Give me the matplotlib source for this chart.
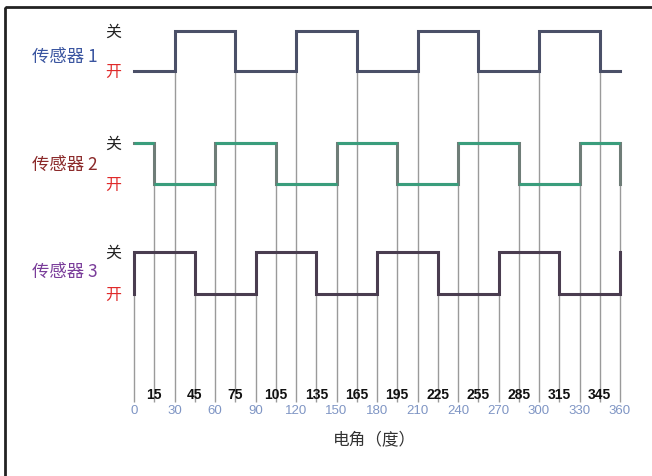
import matplotlib
matplotlib.use('Agg')
import matplotlib.pyplot as plt
from matplotlib.patches import Rectangle

plt.rcParams['font.family'] = ['Noto Sans CJK SC', 'DejaVu Sans']

# 传感器状态: 1 = 关 (高), 0 = 开 (低)
s1_angles = [0, 30, 75, 120, 165, 210, 255, 300, 345, 360]
s1_states = [0, 1, 0, 1, 0, 1, 0, 1, 0, 0]
s2_angles = [0, 15, 60, 105, 150, 195, 240, 285, 330, 360, 360]
s2_states = [1, 0, 1, 0, 1, 0, 1, 0, 1, 1, 0]
s3_angles = [0, 0, 45, 90, 135, 180, 225, 270, 315, 360, 360]
s3_states = [0, 1, 0, 1, 0, 1, 0, 1, 0, 0, 1]

sensor_names = ['传感器 1', '传感器 2', '传感器 3']
even_ticks = list(range(0, 361, 30))
odd_ticks = list(range(15, 360, 30))
xlabel = '电角（度）'

# layout (pixel-like y, x in degrees)
fig = plt.figure(figsize=(6.52, 4.76), dpi=100)
ax = fig.add_axes([0, 0, 1, 1])
px = 486 / 360
ax.set_xlim(-134 / px, (652 - 134) / px)
ax.set_ylim(476, 0)
ax.axis('off')

levels = [(31, 71), (143, 184), (252, 294)]  # (关, 开)
line_colors = ['#4b5068', '#6f7d78', '#4a3d50']
name_colors = ['#3a55a0', '#8b2a2a', '#7a3d9a']
label_y = [57, 165, 272]
sensors = [(s1_angles, s1_states), (s2_angles, s2_states), (s3_angles, s3_states)]

def to_y(states, lv):
    hi, lo = lv
    return [lo - s * (lo - hi) for s in states]

# vertical guide lines from first transition down to axis
bottom_y = 402
for a in range(0, 361, 15):
    top = None
    for (angs, sts), lv in zip(sensors, levels):
        trans = [angs[i] for i in range(1, len(angs)) if sts[i] != sts[i - 1]]
        if a in trans:
            top = lv[0]
            break
    if top is not None:
        ax.vlines(a, top, bottom_y, color='#9a9a9a', lw=1.0, zorder=1)

for i, ((angs, sts), lv) in enumerate(zip(sensors, levels)):
    ys = to_y(sts, lv)
    ax.plot(angs, ys, drawstyle='steps-post', color=line_colors[i], lw=2.2,
            solid_joinstyle='miter', zorder=3)
    if i == 1:
        # green horizontal segments
        for j in range(len(angs) - 1):
            if angs[j + 1] > angs[j]:
                ax.hlines(ys[j], angs[j], angs[j + 1], color='#3a9d7c', lw=2.2, zorder=4)
    ax.text(-36 / px, label_y[i], sensor_names[i], color=name_colors[i],
            fontsize=12.5, ha='right', va='center')
    ax.text(-21 / px, lv[0] + 1, '关', color='#222222', fontsize=11.5, ha='center', va='center')
    ax.text(-21 / px, lv[1] + 1, '开', color='#e02a2a', fontsize=11.5, ha='center', va='center')

for t in odd_ticks:
    ax.text(t, 395, str(t), fontsize=10, fontweight='bold', color='#111111',
            ha='center', va='center', family=['Liberation Sans', 'DejaVu Sans'])
for t in even_ticks:
    ax.text(t, 411, str(t), fontsize=9.5, color='#7f95c4',
            ha='center', va='center', family=['Liberation Sans', 'DejaVu Sans'])

ax.text(178, 440, xlabel, fontsize=12, color='#333333', ha='center', va='center')

# outer frame
ax.add_patch(Rectangle((-129 / px, 7), 700 / px, 490, fill=False, ec='#222222',
                       lw=2.0, zorder=5, clip_on=False))

fig.savefig('out.png', dpi=100)
